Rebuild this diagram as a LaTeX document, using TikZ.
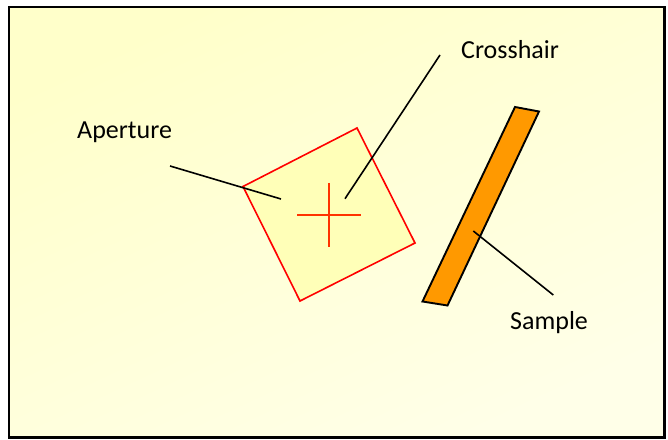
\documentclass[tikz,border=0pt]{standalone}
\usepackage{fontspec}
\setmainfont{Carlito}
\definecolor{bgtop}{RGB}{255,255,202}
\definecolor{bgbot}{RGB}{255,255,232}
\definecolor{apfill}{RGB}{255,255,184}
\definecolor{crossred}{RGB}{255,51,0}
\definecolor{sampleorange}{RGB}{255,153,0}
\begin{document}
\begin{tikzpicture}[x=1pt,y=1pt,
  lbl/.style={font=\fontsize{26}{30}\selectfont, inner sep=0pt, anchor=base west, text=black},
  leader/.style={draw=black, line width=1.6pt},
  frame/.style={draw=black, line width=2.4pt},
  aperture/.style={draw=red, fill=apfill, line width=1.6pt, line join=miter},
  crossline/.style={draw=crossred, line width=2.8pt},
  samplebar/.style={draw=black, fill=sampleorange, line width=1.9pt, line join=miter}]
\useasboundingbox (0,0) rectangle (668,439);
\fill[white] (0,0) rectangle (668,439);
\shade[top color=bgtop, bottom color=bgbot, shading angle=25] (9,1.5) rectangle (664.5,432);
\draw[frame] (9,1.5) rectangle (664.5,432);
% aperture square
\draw[aperture] (357,311) -- (415,196) -- (300,138) -- (243,252.5) -- cycle;
% crosshair
\coordinate (cc) at (329,224);
\draw[crossline] (297,224) -- (361,224);
\draw[crossline] (329,256) -- (329,192);
% sample bar
\draw[samplebar] (515,332) -- (539,327.5) -- (447.5,133.5) -- (422.5,137.5) -- cycle;
% labels
\node[lbl] (aplbl) at (77,300.7) {Aperture};
\node[lbl] (crlbl) at (461,380.7) {Crosshair};
\node[lbl] (salbl) at (510,110) {Sample};
% leader endpoints
\coordinate (apA) at (170,273);
\coordinate (apB) at (281,240);
\coordinate (crA) at (440,384);
\coordinate (crB) at (345,240.3);
\coordinate (saA) at (473.3,208);
\coordinate (saB) at (553.3,144);
\draw[leader] (apA) -- (apB);
\draw[leader] (crA) -- (crB);
\draw[leader] (saA) -- (saB);
\end{tikzpicture}
\end{document}
